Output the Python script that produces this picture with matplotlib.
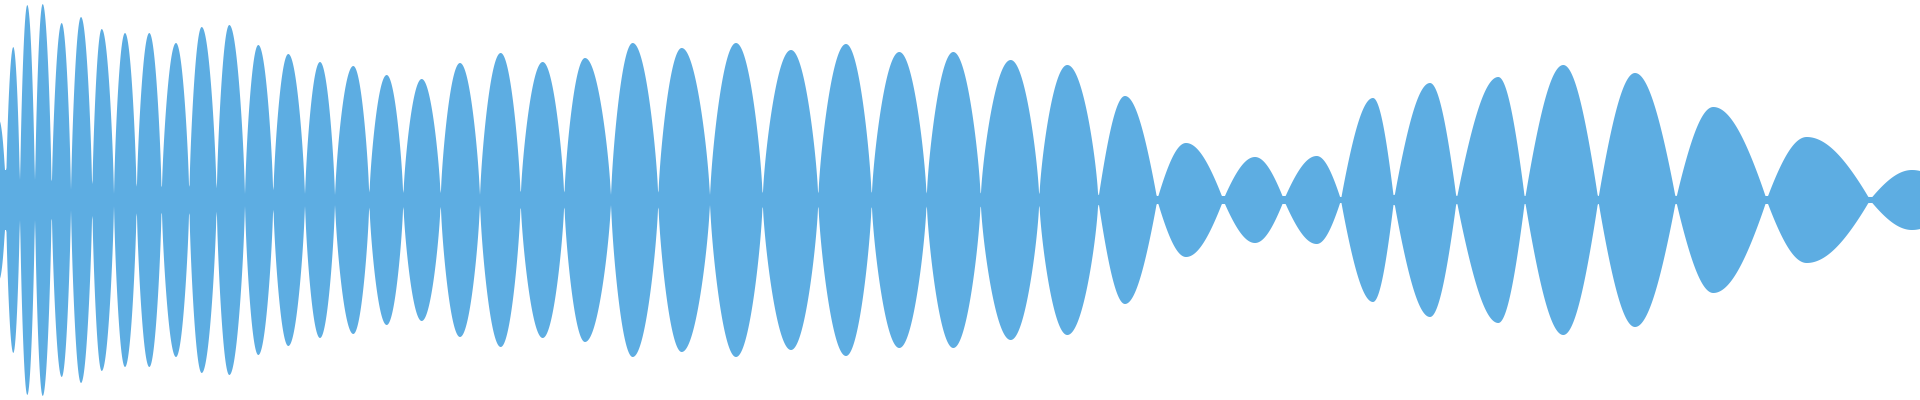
import numpy as np
import matplotlib
matplotlib.use("Agg")
import matplotlib.pyplot as plt

# Envelope nodes (near-silent points between lobes), in column units (0..1920)
node_x = [-8, 6, 20, 35, 51.7, 71, 92.3, 114, 136.7, 161.7, 189.3, 216.7, 245,
          273.3, 305, 335, 369.3, 403.3, 440.7, 480, 520.7, 564.3, 611, 658.3,
          710, 762.7, 818.3, 871.7, 926.7, 980.7, 1039.3, 1098.3, 1157.3,
          1223.3, 1284, 1341, 1394, 1456.7, 1525, 1598.3, 1676, 1766.7, 1870,
          1960]

# Residual amplitude at each node (full scale = 200)
node_amp = [30, 30, 20, 20, 10, 10, 8, 6, 6, 6, 6, 6, 6,
            6, 6, 5, 5, 5, 5, 5, 5, 5, 5, 5,
            5, 5, 5, 5, 5, 5, 5, 5, 4,
            4, 4, 3, 5, 4, 4, 4, 4, 4, 3,
            3]

# Crest position of each lobe
peak_x = [-1, 13.3, 27.3, 42.7, 61.7, 81, 101.7, 125, 149.3, 176, 201.7, 229.3,
          258.3, 288.3, 320, 353.3, 386.7, 421.7, 460, 500.7, 542.7, 585,
          632.7, 681.7, 736, 791, 846, 899.3, 953.3, 1010.7, 1067.3, 1125,
          1186, 1255, 1316.7, 1373, 1430, 1498.3, 1563.3, 1635, 1713.3,
          1806.7, 1912]

# Crest amplitude of each lobe (full scale = 200)
peak_amp = [80, 153, 195, 196, 177, 183, 171, 167, 167, 157, 173, 175,
            155, 146, 138, 134, 125, 121, 137, 147, 138, 142,
            157, 152, 157, 150, 156, 148, 148, 140, 135, 104,
            57, 43, 44, 102, 117, 123, 135, 127, 93,
            63, 30]

# Fullness of each lobe's outline (lower = rounder / fatter)
lobe_shape = [0.7] * 31 + [0.95] * 12

COLOR = "#5DADE2"

x = np.linspace(0, 1920, 3841)
env = np.zeros_like(x)
for i in range(len(peak_x)):
    l, r, p, a, k = node_x[i], node_x[i + 1], peak_x[i], peak_amp[i], lobe_shape[i]
    m = (x >= l) & (x <= p)
    env[m] = np.maximum(env[m], a * np.sin(np.pi / 2 * (x[m] - l) / (p - l)) ** k)
    m = (x >= p) & (x <= r)
    env[m] = np.maximum(env[m], a * np.sin(np.pi / 2 * (r - x[m]) / (r - p)) ** k)
env = np.maximum(env, np.interp(x, node_x, node_amp))

fig = plt.figure(figsize=(19.2, 4), dpi=100)
ax = fig.add_axes([0, 0, 1, 1])
ax.fill_between(x, -env, env, color=COLOR, linewidth=0)
ax.set_xlim(0, 1920)
ax.set_ylim(-200, 200)
ax.axis("off")
fig.savefig("out.png", dpi=100, facecolor="white")
